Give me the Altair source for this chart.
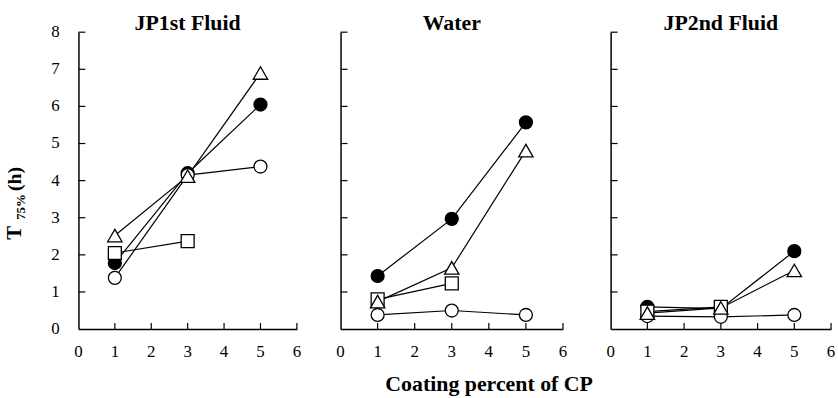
import altair as alt
import pandas as pd

# Dissolution time T75% (h) against coating percent of CP, three test media
panels = ["JP1st Fluid", "Water", "JP2nd Fluid"]
coating = [1, 3, 5]
coating_sq = [1, 3]

filled_circle = {
    "JP1st Fluid": [1.78, 4.20, 6.05],
    "Water": [1.43, 2.97, 5.57],
    "JP2nd Fluid": [0.60, 0.55, 2.10],
}
open_circle = {
    "JP1st Fluid": [1.38, 4.15, 4.38],
    "Water": [0.38, 0.50, 0.38],
    "JP2nd Fluid": [0.35, 0.33, 0.38],
}
triangle = {
    "JP1st Fluid": [2.52, 4.12, 6.90],
    "Water": [0.74, 1.65, 4.81],
    "JP2nd Fluid": [0.43, 0.57, 1.58],
}
square = {
    "JP1st Fluid": [2.05, 2.37],
    "Water": [0.80, 1.23],
    "JP2nd Fluid": [0.47, 0.60],
}

x_ticks = [1, 2, 3, 4, 5, 6]
y_ticks = [1, 2, 3, 4, 5, 6, 7, 8]
x_labels = [0, 1, 2, 3, 4, 5, 6]
y_labels = [0, 1, 2, 3, 4, 5, 6, 7, 8]

rows = []
for p in panels:
    for s, table, xs in [("filled_circle", filled_circle, coating),
                         ("open_circle", open_circle, coating),
                         ("square", square, coating_sq),
                         ("triangle", triangle, coating)]:
        for xv, yv in zip(xs, table[p]):
            rows.append({"panel": p, "series": s, "x": xv, "y": yv})
df = pd.DataFrame(rows)

# drawing order bottom to top, with marker style
markers = [
    ("filled_circle", "circle", "black", 170),
    ("open_circle", "circle", "white", 170),
    ("square", "square", "white", 170),
    ("triangle", "triangle-up", "white", 210),
]

widths = [220, 224, 222]
title_offsets = [-12, -3, -3]
H = 299
FONT = "Liberation Serif"


def x_enc():
    return alt.X("x:Q", scale=alt.Scale(domain=[0, 6], nice=False),
                 axis=alt.Axis(values=[0, 6], ticks=False, labels=False, grid=False,
                               domainColor="black", domainWidth=1.5, title=None))


def y_enc():
    return alt.Y("y:Q", scale=alt.Scale(domain=[0, 8], nice=False),
                 axis=alt.Axis(values=[0, 8], ticks=False, labels=False, grid=False,
                               domainColor="black", domainWidth=1.5, title=None))


def panel(i):
    name = panels[i]
    first = i == 0
    base = alt.Chart(df).transform_filter(alt.datum.panel == name)
    layers = []
    layers.append(base.mark_line(color="black", strokeWidth=1.2).encode(
        x=x_enc(), y=y_enc(), detail="series:N"))
    for s, shape, fill, size in markers:
        layers.append(base.transform_filter(alt.datum.series == s).mark_point(
            shape=shape, filled=True, fill=fill, stroke="black", strokeWidth=1.3,
            size=size, opacity=1).encode(x=x_enc(), y=y_enc()))
    # inward tick marks
    layers.append(alt.Chart(pd.DataFrame({"x": x_ticks})).mark_rule(
        color="black", strokeWidth=1.2).encode(
        x=x_enc(), y=alt.value(H), y2=alt.value(H - 6)))
    layers.append(alt.Chart(pd.DataFrame({"y": y_ticks})).mark_rule(
        color="black", strokeWidth=1.2).encode(
        y=y_enc(), x=alt.value(0), x2=alt.value(7)))
    # tick labels
    layers.append(alt.Chart(pd.DataFrame({"x": x_labels})).mark_text(
        font=FONT, fontSize=17, color="black", baseline="middle",
        align="center").encode(
        x=x_enc(), y=alt.value(H + 23), text="x:Q"))
    if first:
        layers.append(alt.Chart(pd.DataFrame({"y": y_labels})).mark_text(
            font=FONT, fontSize=17, color="black", baseline="middle",
            align="right").encode(
            y=y_enc(), x=alt.value(-19), text="y:Q"))
        # y title: T with subscript 75% and (h)
        parts = [("T", 209, -58, 21, "bold"), ("75%", 189, -54, 13, "bold"),
                 ("(h)", 160, -58, 20, "bold")]
        for txt, yy, xx, fs, fw in parts:
            layers.append(alt.Chart(pd.DataFrame({"t": [txt]})).mark_text(
                angle=270, align="left", baseline="alphabetic", font=FONT,
                fontSize=fs, fontWeight=fw, color="#000000").encode(
                text="t:N", x=alt.value(xx), y=alt.value(yy)))
    return alt.layer(*layers).properties(
        width=widths[i], height=H,
        title=alt.TitleParams(name, font=FONT, fontSize=22, fontWeight="bold",
                              color="black", offset=title_offsets[i]))


left_pair = alt.hconcat(panel(0), panel(1), spacing=34)
chart = alt.hconcat(left_pair, panel(2), spacing=38).properties(
    title=alt.TitleParams("Coating percent of CP", orient="bottom", anchor="middle",
                          font=FONT, fontSize=22, fontWeight="bold", color="black",
                          offset=14, dx=70),
    padding={"left": 4, "top": 10, "right": 2, "bottom": 2},
).configure_view(stroke=None).configure_title(font=FONT)

chart.save("out.html", embed_options={"renderer": "svg", "actions": False})
